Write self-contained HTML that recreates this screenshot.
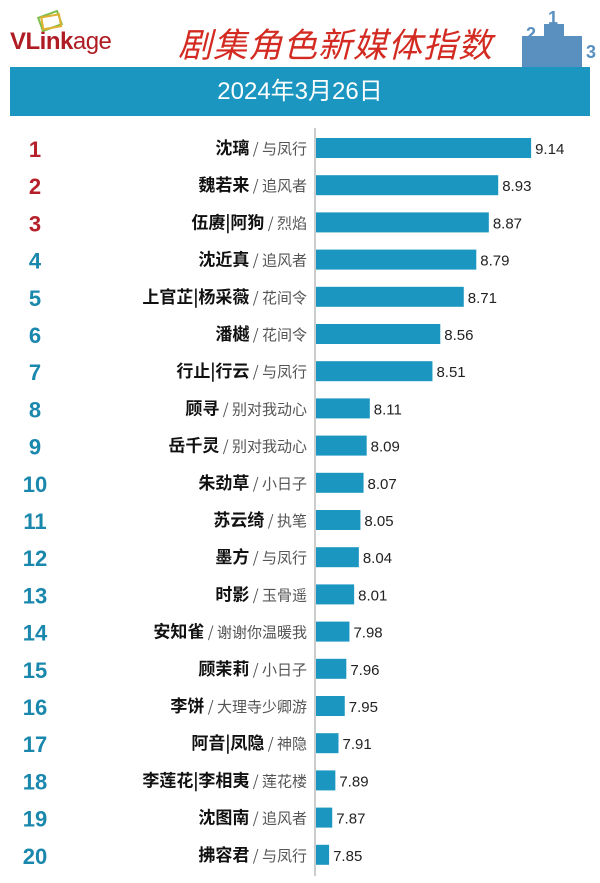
<!DOCTYPE html>
<html><head><meta charset="utf-8"><style>
body{margin:0;width:600px;height:883px;background:#fff;position:relative;overflow:hidden;font-family:"Liberation Sans","Noto Sans CJK SC",sans-serif}
#logo{position:absolute;left:10px;top:28px;font-size:24px;font-weight:bold;color:#b01c24;letter-spacing:-0.5px}
#logo span{font-weight:normal}
#title{position:absolute;left:178px;top:18px;font-size:34px;color:#d32a22;font-style:italic;font-family:"Noto Sans CJK SC",sans-serif;letter-spacing:1px}
#banner{position:absolute;left:10px;top:67px;width:580px;height:49px;background:#1b96c1;color:#fff;text-align:center;line-height:49px;font-size:24px}
</style></head><body>
<div id="logo">VLink<span>age</span></div>
<svg style="position:absolute;left:36px;top:8px" width="30" height="26"><rect x="4" y="6" width="20" height="14" fill="none" stroke="#7cbf4a" stroke-width="2" transform="rotate(-20 14 13)"/><rect x="6" y="8" width="18" height="12" fill="none" stroke="#e0b030" stroke-width="2" transform="rotate(-10 14 13)"/></svg>
<div id="title">剧集角色新媒体指数</div>
<svg style="position:absolute;left:522px;top:10px" width="78" height="58"><rect x="0" y="26" width="60" height="32" fill="#5a90c0"/><rect x="22" y="14" width="20" height="44" fill="#5a90c0"/><text x="4" y="30" fill="#5a90c0" font-size="18" font-weight="bold">2</text><text x="26" y="14" fill="#5a90c0" font-size="18" font-weight="bold">1</text><text x="64" y="48" fill="#5a90c0" font-size="18" font-weight="bold">3</text></svg>
<div id="banner">2024年3月26日</div>
<svg id="chart" style="position:absolute;left:0;top:0" width="600" height="883"></svg>
<script>
const names=["沈璃","魏若来","伍赓|阿狗","沈近真","上官芷|杨采薇","潘樾","行止|行云","顾寻","岳千灵","朱劲草","苏云绮","墨方","时影","安知雀","顾茉莉","李饼","阿音|凤隐","李莲花|李相夷","沈图南","拂容君"];
const shows=["与凤行","追风者","烈焰","追风者","花间令","花间令","与凤行","别对我动心","别对我动心","小日子","执笔","与凤行","玉骨遥","谢谢你温暖我","小日子","大理寺少卿游","神隐","莲花楼","追风者","与凤行"];
const values=[9.14,8.93,8.87,8.79,8.71,8.56,8.51,8.11,8.09,8.07,8.05,8.04,8.01,7.98,7.96,7.95,7.91,7.89,7.87,7.85];
const svg=document.getElementById('chart');const NS='http://www.w3.org/2000/svg';
const x=v=>315+(v-7.76)*156.6;const y=i=>148+i*37.2;
function mk(t,a){const e=document.createElementNS(NS,t);for(const k in a)e.setAttribute(k,a[k]);svg.appendChild(e);return e;}
const ax=mk('line',{x1:315,y1:128,x2:315,y2:876,stroke:'#999','stroke-width':1});


values.forEach((v,i)=>{
 const cy=y(i);
 const r=mk('rect',{x:316,y:cy-10,width:x(v)-316,height:20,fill:'#1b96c1'});
 
 
 const vt=mk('text',{x:x(v)+4,y:cy+6,'font-size':15,fill:'#222'});vt.textContent=v.toFixed(2);
 
 
 const rk=mk('text',{x:35,y:cy+9,'font-size':22,'font-weight':'bold','text-anchor':'middle',fill:i<3?'#b5202a':'#1a87ad'});rk.textContent=i+1;
 
 
 const t=mk('text',{x:307,y:cy+6,'text-anchor':'end','font-family':'"Noto Sans CJK SC",sans-serif'});
 
 
 const a=document.createElementNS(NS,'tspan');a.setAttribute('font-size',17);a.setAttribute('font-weight','bold');a.setAttribute('fill','#111');a.textContent=names[i];t.appendChild(a);
 const b=document.createElementNS(NS,'tspan');b.setAttribute('font-size',15);b.setAttribute('fill','#555');b.textContent=' / '+shows[i];t.appendChild(b);
});
</script>
</body></html>
